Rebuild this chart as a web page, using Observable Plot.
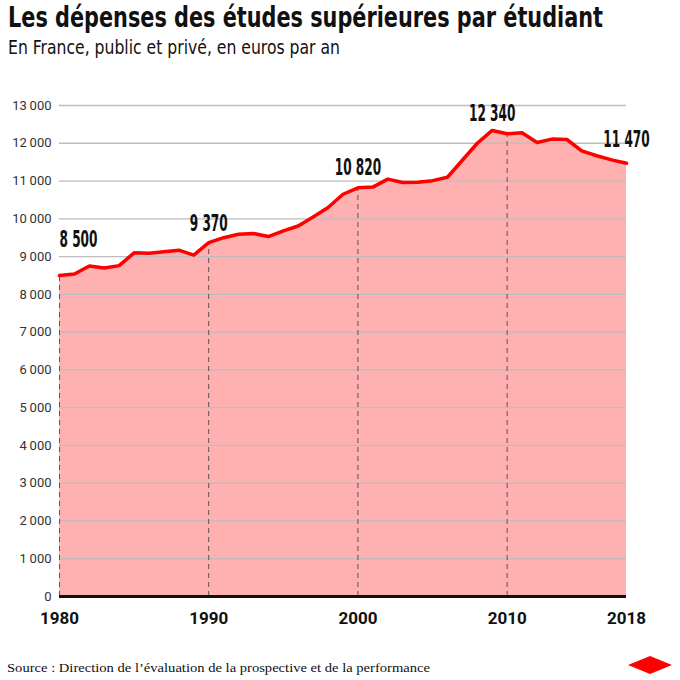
<!DOCTYPE html>
<html><head><meta charset="utf-8">
<script src="https://cdn.jsdelivr.net/npm/d3@7"></script>
<script src="https://cdn.jsdelivr.net/npm/@observablehq/plot@0.6"></script>
<style>
body{margin:0;background:#fff;}
#wrap{position:relative;width:680px;height:680px;overflow:hidden;background:#fff;}
.t{position:absolute;left:8px;white-space:nowrap;transform-origin:0 0;line-height:1;}
#title{top:4px;font-family:"Liberation Sans Narrow","DejaVu Sans Condensed",sans-serif;font-weight:bold;font-size:28px;color:#111;}
#subtitle{top:37px;font-family:"Liberation Sans Narrow","DejaVu Sans Condensed",sans-serif;font-size:20px;color:#111;}
#source{top:661px;left:7px;font-family:"Liberation Serif","DejaVu Serif",serif;font-size:13.5px;color:#111;}
#chart{position:absolute;top:80px;left:0;}
#logo{position:absolute;left:628px;top:656px;}
</style></head>
<body>
<div id="wrap">
  <div id="title" class="t">Les dépenses des études supérieures par étudiant</div>
  <div id="subtitle" class="t">En France, public et privé, en euros par an</div>
  <div id="chart"></div>
  <div id="source" class="t">Source : Direction de l’évaluation de la prospective et de la performance</div>
  <svg id="logo" width="44" height="18"><polygon points="0,9 22,0 44,9 22,18" fill="#ff0000"/></svg>
</div>
<script>
const years = [1980,1981,1982,1983,1984,1985,1986,1987,1988,1989,
               1990,1991,1992,1993,1994,1995,1996,1997,1998,1999,
               2000,2001,2002,2003,2004,2005,2006,2007,2008,2009,
               2010,2011,2012,2013,2014,2015,2016,2017,2018];
const spending = [8500,8540,8750,8700,8760,9100,9090,9130,9170,9040,
                  9370,9500,9590,9610,9530,9680,9810,10050,10300,10650,
                  10820,10840,11050,10960,10970,11010,11100,11550,12000,12340,
                  12250,12280,12020,12110,12100,11800,11670,11560,11470];
const labelYears = [1980,1990,2000,2009,2018];
const labelTexts = ["8 500","9 370","10 820","12 340","11 470"];
const dashYears = [1980,1990,2000,2010];
const xTicks = [1980,1990,2000,2010,2018];
const yTicks = [0,1000,2000,3000,4000,5000,6000,7000,8000,9000,10000,11000,12000,13000];

const data = years.map((year,i)=>({year, value: spending[i]}));
const valueOf = y => spending[years.indexOf(y)];
const labels = labelYears.map((year,i)=>({year, value: valueOf(year), text: labelTexts[i]}));
const dashes = dashYears.map(year=>({year, value: valueOf(year)}));

const fr = d3.formatLocale({decimal:",", thousands:"\u2009", grouping:[3], currency:["","€"]});
const fmt = fr.format(",d");

const labelFont = '"Liberation Sans Narrow","DejaVu Sans Condensed",sans-serif';
const lab = (i, opts) => Plot.text([labels[i]], {x:"year", y:"value", text:"text",
  fontFamily:labelFont, fontWeight:"bold", fontSize:23, fill:"#111", lineAnchor:"bottom", ...opts});

const chart = Plot.plot({
  width:680, height:560,
  marginTop:25, marginBottom:44, marginLeft:59, marginRight:54,
  x:{domain:[1980,2018]},
  y:{domain:[0,13000]},
  style:{background:"transparent", fontFamily:"Roboto, sans-serif", overflow:"visible"},
  marks:[
    Plot.areaY(data,{x:"year", y:"value", fill:"#ffb1b1"}),
    Plot.gridY(yTicks.filter(d=>d>0),{stroke:"#bdbdbd", strokeOpacity:1, strokeWidth:1.3}),
    Plot.ruleX(dashes,{x:"year", y1:0, y2:"value", stroke:"#555", strokeWidth:1, strokeDasharray:"5,4"}),
    Plot.lineY(data,{x:"year", y:"value", stroke:"#ff0000", strokeWidth:3.5, strokeLinejoin:"round"}),
    Plot.ruleY([0],{stroke:"#111", strokeWidth:3}),
    Plot.axisY(yTicks,{tickSize:0, tickPadding:8, tickFormat:fmt, fontSize:13, fill:"#333", label:null}),
    Plot.axisX(xTicks,{tickSize:0, tickPadding:15, tickFormat:d=>String(d), fontSize:17, fontWeight:"bold", fill:"#111", label:null}),
    lab(0,{textAnchor:"start", dy:-28}),
    lab(1,{dy:-12}),
    lab(2,{dy:-13}),
    lab(3,{dy:-9}),
    lab(4,{dy:-16})
  ]
});
document.getElementById("chart").appendChild(chart);

// condense the annotation numbers horizontally (about their anchor point)
const annTexts = Array.from(chart.querySelectorAll('g[aria-label="text"] text'));
if (annTexts.length) {
  const k = 38 / annTexts[0].getComputedTextLength();
  annTexts.forEach(t => {
    const x = +(t.getAttribute("x") || 0);
    const tr = t.getAttribute("transform") || "";
    t.setAttribute("transform", `${tr} translate(${x},0) scale(${k},1) translate(${-x},0)`);
  });
}

function fit(id, target){
  const el = document.getElementById(id);
  const w = el.getBoundingClientRect().width;
  el.style.transform = `scaleX(${target/w})`;
}
fit("title", 595);
fit("subtitle", 332);
fit("source", 423);
</script>
</body></html>
